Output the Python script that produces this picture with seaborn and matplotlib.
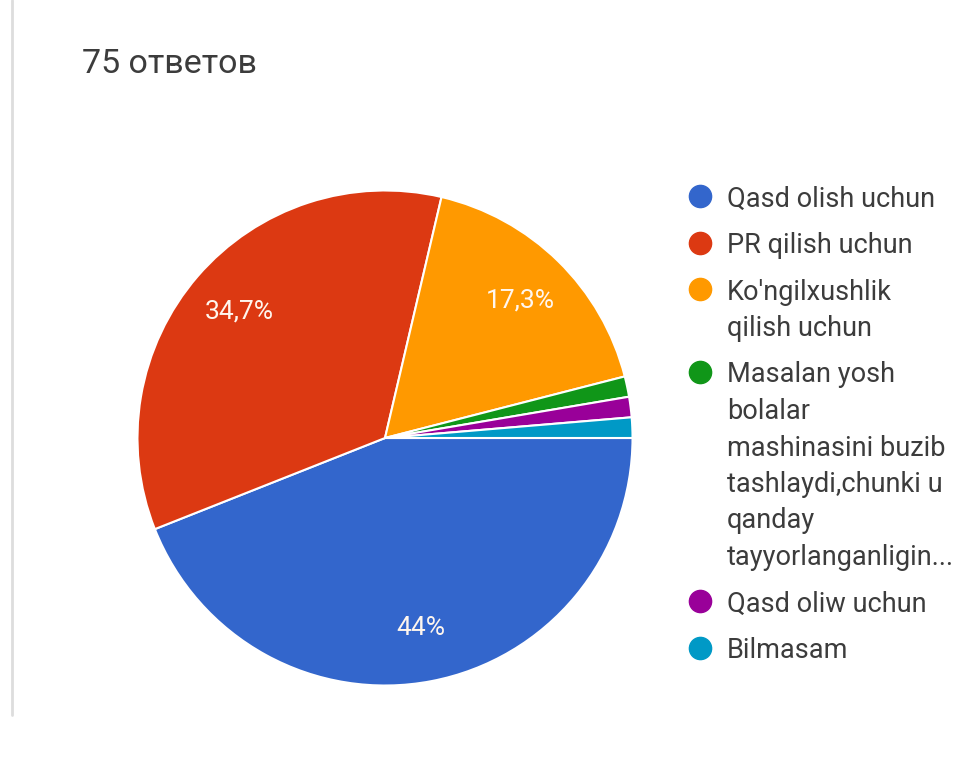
import matplotlib
matplotlib.use("Agg")
import matplotlib.pyplot as plt
import seaborn as sns
from matplotlib.lines import Line2D

# data (75 responses)
labels = ["Qasd olish uchun", "PR qilish uchun", "Ko'ngilxushlik\nqilish uchun",
          "Masalan yosh\nbolalar\nmashinasini buzib\ntashlaydi,chunki u\nqanday\ntayyorlanganligin...",
          "Qasd oliw uchun", "Bilmasam"]
counts = [33, 26, 13, 1, 1, 1]
colors = ["#3366CC", "#DC3912", "#FF9900", "#109618", "#990099", "#0099C6"]
title = "75 ответов"

sns.set_theme(style="white")
plt.rcParams['font.family'] = ['Roboto', 'DejaVu Sans']

W, H = 957, 758
fig = plt.figure(figsize=(W / 100, H / 100), dpi=100)
ax = fig.add_axes([135 / W, 1 - 688 / H, 500 / W, 500 / H])

def pct_label(p):
    if p < 5:
        return ""
    s = f"{p:.1f}".rstrip("0").rstrip(".")
    return s.replace(".", ",") + "%"

wedges, texts, autotexts = ax.pie(
    counts, colors=colors, startangle=0, counterclock=False,
    autopct=pct_label, pctdistance=0.78,
    wedgeprops=dict(edgecolor="white", linewidth=1.5),
    textprops=dict(color="#fff6ee", fontsize=19))
ax.set_aspect("equal")
ax.set_xlim(-1.01, 1.01)
ax.set_ylim(-1.01, 1.01)

fig.text(82 / W, 1 - 64 / H, title, fontsize=24.5, color="#3c3c3c", va="center", ha="left")

# left border line of the card
fig.add_artist(Line2D([12 / W, 12 / W], [1 - 715 / H, 1.0],
                      transform=fig.transFigure, color="#dddddd", lw=2))

# legend drawn as marker + text rows
line_h = 36.5
gap = 10
y = 196
for lab, col in zip(labels, colors):
    fig.add_artist(Line2D([700 / W], [1 - y / H], marker="o", markersize=16,
                          color=col, transform=fig.transFigure, linestyle="none"))
    for k, part in enumerate(lab.split("\n")):
        fig.text(727 / W, 1 - (y + k * line_h) / H, part, fontsize=19.5,
                 color="#3c3c3c", va="center_baseline", ha="left")
    y += line_h * (lab.count("\n") + 1) + gap

fig.savefig("out.png", dpi=100, facecolor="white")
